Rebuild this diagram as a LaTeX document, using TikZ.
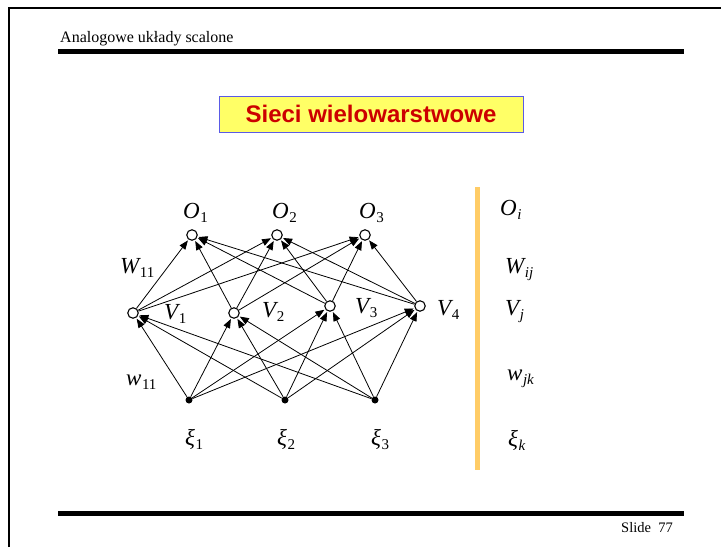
\documentclass[tikz,border=0pt]{standalone}
\usepackage{fontspec}
\setmainfont{Liberation Serif}
\newfontfamily\arialfont{Liberation Sans}
\usetikzlibrary{arrows.meta}
\definecolor{titlefill}{HTML}{FFFF66}
\definecolor{titleborder}{HTML}{5A5AE6}
\definecolor{titletext}{HTML}{CC0000}
\definecolor{barorange}{HTML}{FFCC66}
% italic symbol with a subscript, Times style
\newcommand{\symsub}[2]{{\fontsize{23}{25}\selectfont\itshape #1\kern0.5pt\raisebox{-4.5pt}{\fontsize{15}{15}\selectfont #2}}}
\begin{document}
\begin{tikzpicture}[x=1pt,y=-1pt,
  neuron/.style={circle,draw,line width=1.1pt,fill=white,inner sep=0pt,minimum size=10.5pt},
  inputdot/.style={circle,fill=black,inner sep=0pt,minimum size=7pt},
  link/.style={line width=0.8pt,shorten >=1pt,-{Triangle[length=9pt,width=7pt]}},
  lab/.style={anchor=base west,inner sep=0pt},
  rule/.style={line width=5pt}]
\useasboundingbox (0,0) rectangle (721,547);
% page frame
\draw[line width=2pt] (9,547) -- (9,8) -- (721,8);
% header and footer
\node[lab,font=\fontsize{16}{18}\selectfont] (head) at (60,42) {Analogowe układy scalone};
\coordinate (hl) at (58,51); \coordinate (hr) at (684,51);
\draw[rule] (hl) -- (hr);
\coordinate (fl) at (58,513.5); \coordinate (fr) at (684,513.5);
\draw[rule] (fl) -- (fr);
\node[lab,font=\fontsize{14.5}{16}\selectfont] (slide) at (621,532) {Slide\ \ 77};
% title
\node[draw=titleborder,line width=1pt,fill=titlefill,minimum width=304pt,minimum height=36pt,inner sep=0pt,
  font=\arialfont\bfseries\fontsize{24}{26}\selectfont,text=titletext] (title) at (371,114) {Sieci wielowarstwowe};
% neurons
\node[neuron] (O1) at (192,235) {};
\node[neuron] (O2) at (277,235) {};
\node[neuron] (O3) at (365,235) {};
\node[neuron] (V1) at (133,313) {};
\node[neuron] (V2) at (234,313) {};
\node[neuron] (V3) at (330,306) {};
\node[neuron] (V4) at (420,306) {};
\node[inputdot] (X1) at (189,400) {};
\node[inputdot] (X2) at (285,400) {};
\node[inputdot] (X3) at (375,400) {};
% connections
\foreach \j in {1,...,4}{
  \foreach \i in {1,2,3}{
    \draw[link] (V\j) -- (O\i);
  }
  \foreach \k in {1,2,3}{
    \draw[link] (X\k) -- (V\j);
  }
}
% labels
\node[lab] (lO1) at (183,218) {\symsub{O}{\upshape 1}};
\node[lab] (lO2) at (272,218) {\symsub{O}{\upshape 2}};
\node[lab] (lO3) at (359,218) {\symsub{O}{\upshape 3}};
\node[lab] (lW) at (120,273) {\symsub{W}{\upshape 11}};
\node[lab] (lV1) at (164,319) {\symsub{V}{\upshape 1}};
\node[lab] (lV2) at (262,317) {\symsub{V}{\upshape 2}};
\node[lab] (lV3) at (355,313) {\symsub{V}{\upshape 3}};
\node[lab] (lV4) at (437,315) {\symsub{V}{\upshape 4}};
\node[lab] (lw) at (126,385) {\symsub{w}{\upshape 11}};
\node[lab] (lX1) at (185,445) {\symsub{ξ}{\upshape 1}};
\node[lab] (lX2) at (277,445) {\symsub{ξ}{\upshape 2}};
\node[lab] (lX3) at (371,445) {\symsub{ξ}{\upshape 3}};
% legend column
\coordinate (bt) at (477.5,187); \coordinate (bb) at (477.5,470);
\draw[barorange,line width=5pt] (bt) -- (bb);
\node[lab] (rO) at (500,215) {\symsub{O}{i}};
\node[lab] (rW) at (505,273) {\symsub{W}{ij}};
\node[lab] (rV) at (505,315) {\symsub{V}{j}};
\node[lab] (rw) at (507,380) {\symsub{w}{jk}};
\node[lab] (rX) at (508,446) {\symsub{ξ}{k}};
\end{tikzpicture}
\end{document}
